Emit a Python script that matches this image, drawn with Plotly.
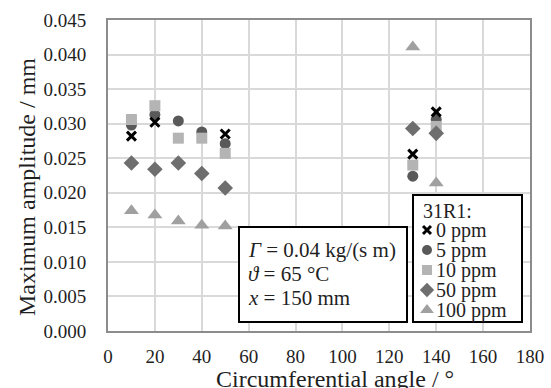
import plotly.graph_objects as go

# Circumferential angle positions (degrees)
angles_0 = [10, 20, 50, 130, 140]
amp_0ppm = [0.0282, 0.0302, 0.0285, 0.0256, 0.0317]

angles = [10, 20, 30, 40, 50, 130, 140]
amp_5ppm = [0.0298, 0.0313, 0.0304, 0.0288, 0.0271, 0.0224, 0.0306]
amp_10ppm = [0.0306, 0.0326, 0.0279, 0.0279, 0.0257, 0.0240, 0.0296]
amp_50ppm = [0.0243, 0.0234, 0.0243, 0.0228, 0.0207, 0.0293, 0.0286]
amp_100ppm = [0.0174, 0.0168, 0.0159, 0.0153, 0.0152, 0.0411, 0.0214]

x_ticks = list(range(0, 181, 20))
y_ticks = [i * 0.005 for i in range(10)]
y_tick_labels = ["0.000", "0.005", "0.010", "0.015", "0.020",
                 "0.025", "0.030", "0.035", "0.040", "0.045"]

legend_title = "31R1:"
condition_lines = ["<i>Γ</i> = 0.04 kg/(s m)",
                   "<i>ϑ</i> = 65 °C",
                   "<i>x</i> = 150 mm"]

SERIF = "'Liberation Serif', 'Times New Roman', 'DejaVu Serif', serif"
TXT = "#1f1f1f"

W, H = 551, 388
L, R, T, B = 108, 21, 20, 57
PX0, PX1 = L, W - R          # plot area in page pixels
PY0, PY1 = T, H - B
X_RANGE = [0, 180]
Y_RANGE = [0, 0.045]


def px_to_x(px):
    return X_RANGE[0] + (px - PX0) / (PX1 - PX0) * (X_RANGE[1] - X_RANGE[0])


def py_to_y(py):
    return Y_RANGE[0] + (PY1 - py) / (PY1 - PY0) * (Y_RANGE[1] - Y_RANGE[0])


# series styles: name, x, y, symbol, colour, size
series = [
    ("5 ppm", angles, amp_5ppm, "circle", "#595959", 11),
    ("10 ppm", angles, amp_10ppm, "square", "#b4b4b4", 11),
    ("50 ppm", angles, amp_50ppm, "diamond", "#6e6e6e", 12),
    ("100 ppm", angles, amp_100ppm, "triangle-up", "#a0a0a0", 13),
    ("0 ppm", angles_0, amp_0ppm, "x-thin", "#000000", 9),
]
legend_order = ["0 ppm", "5 ppm", "10 ppm", "50 ppm", "100 ppm"]


def marker_for(sym, col, size):
    m = dict(symbol=sym, color=col, size=size)
    if sym == "x-thin":
        m["line"] = dict(color=col, width=3)
    else:
        m["line"] = dict(width=0)
    return m


fig = go.Figure()

for name, xs, ys, sym, col, size in series:
    fig.add_trace(go.Scatter(x=xs, y=ys, mode="markers", name=name,
                             marker=marker_for(sym, col, size),
                             showlegend=False))

# legend keys live on a pixel-space overlay axis pair
style = {s[0]: s for s in series}
leg_x_marker, leg_x_text = 427, 434
leg_rows = [230, 250, 270, 290, 310]
for name, yrow in zip(legend_order, leg_rows):
    _, _, _, sym, col, size = style[name]
    fig.add_trace(go.Scatter(x=[leg_x_marker], y=[yrow], mode="markers",
                             marker=marker_for(sym, col, size - 1),
                             xaxis="x2", yaxis="y2", showlegend=False,
                             hoverinfo="skip"))
    fig.add_annotation(x=leg_x_text, y=yrow, xref="x2", yref="y2",
                       xanchor="left", yanchor="middle", showarrow=False,
                       text=name, font=dict(family=SERIF, size=20, color=TXT))
fig.add_annotation(x=421, y=211, xref="x2", yref="y2",
                   xanchor="left", yanchor="middle", showarrow=False,
                   text=legend_title, font=dict(family=SERIF, size=20, color=TXT))

# legend frame and condition frame (white boxes over the grid)
for (bx0, bx1, by0, by1) in [(413, 522, 195, 322), (239, 407, 227, 322)]:
    fig.add_shape(type="rect", x0=px_to_x(bx0), x1=px_to_x(bx1),
                  y0=py_to_y(by1), y1=py_to_y(by0),
                  xref="x", yref="y", layer="between",
                  line=dict(color="black", width=2), fillcolor="white")

for line, yrow in zip(condition_lines, [250, 274, 298]):
    fig.add_annotation(x=246, y=yrow, xref="x2", yref="y2",
                       xanchor="left", yanchor="middle", showarrow=False,
                       text=line, font=dict(family=SERIF, size=21, color=TXT))

# axis titles
fig.add_annotation(x=(335 - PX0) / (PX1 - PX0), y=(PY1 - 379) / (PY1 - PY0),
                   xref="paper", yref="paper", xanchor="center", yanchor="middle",
                   showarrow=False, text="Circumferential angle / °",
                   font=dict(family=SERIF, size=24, color=TXT))
fig.add_annotation(x=(27 - PX0) / (PX1 - PX0), y=(PY1 - 187) / (PY1 - PY0),
                   xref="paper", yref="paper", xanchor="center", yanchor="middle",
                   showarrow=False, text="Maximum amplitude / mm", textangle=-90,
                   font=dict(family=SERIF, size=24, color=TXT))

fig.update_layout(
    width=W, height=H,
    margin=dict(l=L, r=R, t=T, b=B),
    paper_bgcolor="white", plot_bgcolor="white",
    font=dict(family=SERIF, color=TXT, size=20),
    showlegend=False,
    xaxis=dict(
        range=X_RANGE, tickvals=x_ticks, ticks="",
        showgrid=True, gridcolor="#d9d9d9", gridwidth=1.5,
        showline=True, linecolor="#8c8c8c", linewidth=2, mirror=True,
        zeroline=False, ticklabelstandoff=7, automargin=False,
        tickfont=dict(family=SERIF, size=19, color=TXT),
    ),
    yaxis=dict(
        range=Y_RANGE, tickvals=y_ticks, ticktext=y_tick_labels, ticks="",
        showgrid=True, gridcolor="#d9d9d9", gridwidth=1.5,
        showline=True, linecolor="#8c8c8c", linewidth=2, mirror=True,
        zeroline=False, ticklabelstandoff=16, automargin=False,
        tickfont=dict(family=SERIF, size=19, color=TXT),
    ),
    xaxis2=dict(overlaying="x", range=[PX0, PX1], visible=False, fixedrange=True),
    yaxis2=dict(overlaying="y", range=[PY1, PY0], visible=False, fixedrange=True),
)

fig.write_html("out.html")
